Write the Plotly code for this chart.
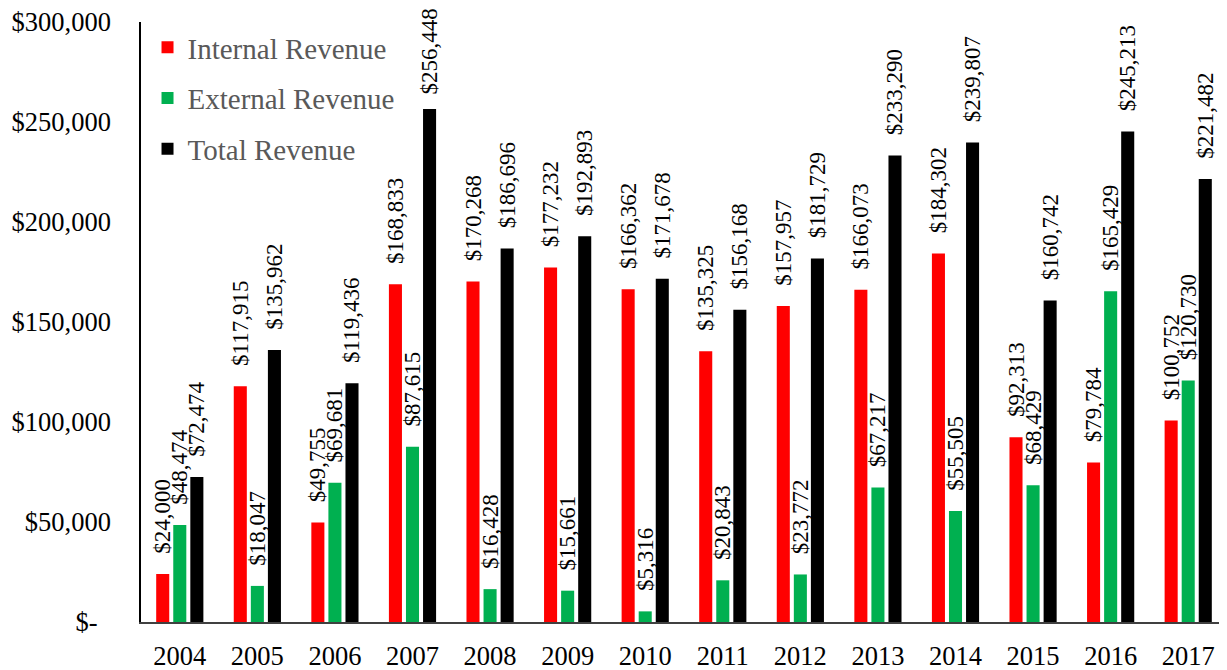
import plotly.graph_objects as go

years = ["2004", "2005", "2006", "2007", "2008", "2009", "2010",
         "2011", "2012", "2013", "2014", "2015", "2016", "2017"]
internal = [24000, 117915, 49755, 168833, 170268, 177232, 166362,
            135325, 157957, 166073, 184302, 92313, 79784, 100752]
external = [48474, 18047, 69681, 87615, 16428, 15661, 5316,
            20843, 23772, 67217, 55505, 68429, 165429, 120730]
total = [72474, 135962, 119436, 256448, 186696, 192893, 171678,
         156168, 181729, 233290, 239807, 160742, 245213, 221482]

series = [
    ("Internal Revenue", internal, "#FF0000"),
    ("External Revenue", external, "#00B050"),
    ("Total Revenue", total, "#000000"),
]

tick_vals = [0, 50000, 100000, 150000, 200000, 250000, 300000]
tick_text = ["$-\u00a0\u00a0", "$50,000", "$100,000", "$150,000",
             "$200,000", "$250,000", "$300,000"]

FONT = "Liberation Serif"


def label(v):
    # leading spaces give the gap between bar top and its label;
    # a slightly smaller gap on the tallest bar keeps its label on the page
    pad = "\u00a0\u00a0" if v > 250000 else "\u00a0\u00a0\u00a0"
    return f"{pad}${v:,}"


fig = go.Figure()
for name, vals, color in series:
    lf = dict(family=FONT, size=23, color="#000000")
    fig.add_trace(go.Bar(
        x=years, y=vals, name=name, legendgroup=name,
        marker=dict(color=color, line=dict(width=0)),
        text=[label(v) for v in vals],
        textposition="outside", textangle=-90,
        constraintext="none", cliponaxis=False,
        textfont=lf, outsidetextfont=lf,
    ))

# page body adds an 8px margin; compensate so the plot sits as in the reference
fig.update_layout(
    width=1219, height=662,
    margin=dict(l=133, r=0, t=14, b=48, autoexpand=False),
    paper_bgcolor="white", plot_bgcolor="white",
    barmode="group", bargap=0.34, bargroupgap=0.235,
    font=dict(family=FONT, color="#000000"),
    showlegend=True,
    legend=dict(
        x=0.006, y=1.0, xanchor="left", yanchor="top",
        font=dict(family=FONT, size=29, color="#595959"),
        bgcolor="rgba(0,0,0,0)", tracegroupgap=10,
        traceorder="grouped",
    ),
    xaxis=dict(
        showgrid=False, showline=True, linecolor="#404040", linewidth=1.5,
        ticks="", tickfont=dict(family=FONT, size=26.5, color="#000000"),
        ticklabelstandoff=9, automargin=False, ticklabeloverflow="allow",
    ),
    yaxis=dict(
        range=[0, 300000], showgrid=False, zeroline=False,
        showline=True, linecolor="#000000", linewidth=1.5,
        tickvals=tick_vals, ticktext=tick_text, ticks="",
        tickfont=dict(family=FONT, size=26.5, color="#000000"),
        ticklabelstandoff=23, automargin=False, ticklabeloverflow="allow",
    ),
)

fig.write_html("out.html")
